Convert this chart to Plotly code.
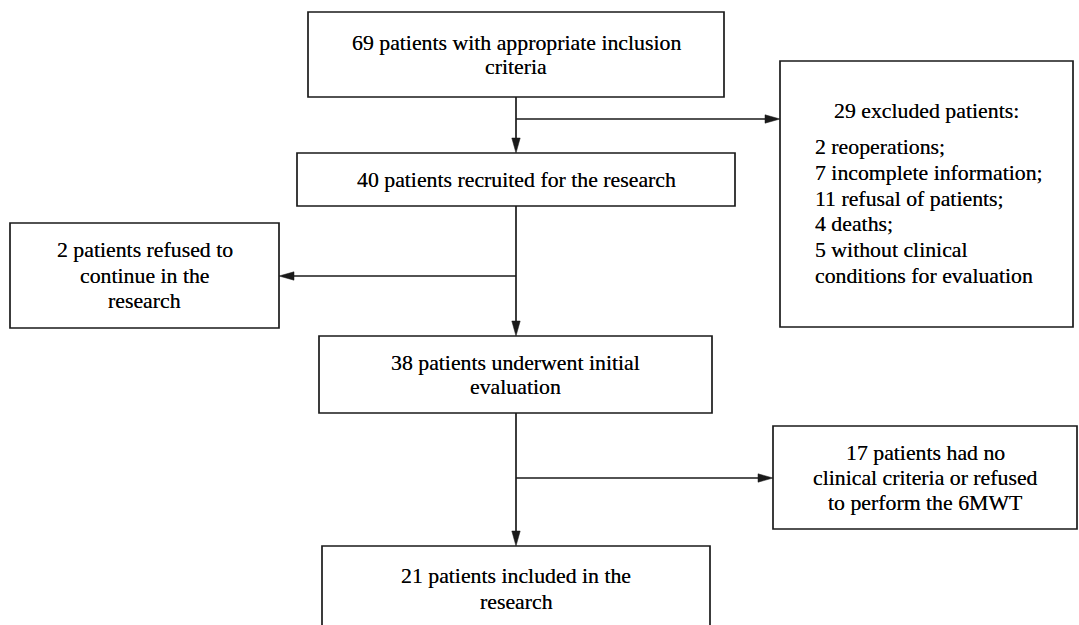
import plotly.graph_objects as go

# ---- content (data) ----
main_steps = [
    ["69 patients with appropriate inclusion", "criteria"],
    ["40 patients recruited for the research"],
    ["38 patients underwent initial", "evaluation"],
    ["21 patients included in the", "research"],
]
excluded_header = "29 excluded patients:"
excluded_items = [
    "2 reoperations;",
    "7 incomplete information;",
    "11 refusal of patients;",
    "4 deaths;",
    "5 without clinical",
    "conditions for evaluation",
]
refused_lines = ["2 patients refused to", "continue in the", "research"]
no_6mwt_lines = ["17 patients had no", "clinical criteria or refused", "to perform the 6MWT"]

# ---- layout (positions in px of a 1079x625 canvas) ----
W, H = 1079, 625
main_boxes = [(308, 724, 12, 97), (297, 735, 153, 206), (319, 712, 336, 413), (322, 710, 546, 631)]
excl_box = (780, 1073, 61, 327)
refused_box = (10, 279, 223, 328)
mwt_box = (773, 1077, 426, 529)
spine_x = 516
branch_excl_y = 119
branch_refused_y = 276
branch_mwt_y = 478
LINE_H = 25.5
FONT = dict(family="Liberation Serif", size=21.8, color="#000000",
            shadow="0px 0px 0.5px rgba(0,0,0,0.7)")
LC = "#1a1a1a"
LW = 1.7
AH_L, AH_W = 15, 4.2

fig = go.Figure()
shapes = []
annotations = []


def rect(b):
    shapes.append(dict(type="rect", xref="x", yref="y", x0=b[0], x1=b[1], y0=b[2], y1=b[3],
                       line=dict(color=LC, width=LW), fillcolor="rgba(0,0,0,0)"))


def seg(x0, y0, x1, y1):
    shapes.append(dict(type="line", xref="x", yref="y", x0=x0, y0=y0, x1=x1, y1=y1,
                       line=dict(color=LC, width=LW)))


def head(xt, yt, direction):
    if direction == "down":
        p = f"M {xt-AH_W},{yt-AH_L} L {xt+AH_W},{yt-AH_L} L {xt},{yt} Z"
    elif direction == "right":
        p = f"M {xt-AH_L},{yt-AH_W} L {xt-AH_L},{yt+AH_W} L {xt},{yt} Z"
    else:
        p = f"M {xt+AH_L},{yt-AH_W} L {xt+AH_L},{yt+AH_W} L {xt},{yt} Z"
    shapes.append(dict(type="path", xref="x", yref="y", path=p, fillcolor=LC,
                       line=dict(color=LC, width=0.5)))


def text_lines(lines, xc, yc, spacing=LINE_H, align="center", xanchor="center"):
    n = len(lines)
    for i, t in enumerate(lines):
        y = yc + (i - (n - 1) / 2) * spacing
        annotations.append(dict(x=xc, y=y, xref="x", yref="y", text=t, showarrow=False,
                                font=FONT, xanchor=xanchor, yanchor="middle", align=align))


# boxes
for b in main_boxes:
    rect(b)
rect(excl_box)
rect(refused_box)
rect(mwt_box)

# spine arrows
for upper, lower in zip(main_boxes[:-1], main_boxes[1:]):
    seg(spine_x, upper[3], spine_x, lower[2] - AH_L + 1)
    head(spine_x, lower[2], "down")

# branches
seg(spine_x, branch_excl_y, excl_box[0] - AH_L + 1, branch_excl_y)
head(excl_box[0], branch_excl_y, "right")
seg(spine_x, branch_refused_y, refused_box[1] + AH_L - 1, branch_refused_y)
head(refused_box[1], branch_refused_y, "left")
seg(spine_x, branch_mwt_y, mwt_box[0] - AH_L + 1, branch_mwt_y)
head(mwt_box[0], branch_mwt_y, "right")

# texts
for b, lines in zip(main_boxes[:3], main_steps[:3]):
    text_lines(lines, (b[0] + b[1]) / 2, (b[2] + b[3]) / 2 + 0.5, spacing=24)
b4 = main_boxes[3]
text_lines(main_steps[3], (b4[0] + b4[1]) / 2, 588.5, spacing=26)
text_lines(refused_lines, (refused_box[0] + refused_box[1]) / 2,
           (refused_box[2] + refused_box[3]) / 2, spacing=25.5)
text_lines(no_6mwt_lines, (mwt_box[0] + mwt_box[1]) / 2,
           (mwt_box[2] + mwt_box[3]) / 2, spacing=25)
text_lines([excluded_header], (excl_box[0] + excl_box[1]) / 2, 111)
text_lines(excluded_items, 813, 211.5, spacing=25.8, align="left", xanchor="left")

fig.update_layout(
    width=W, height=H,
    margin=dict(l=0, r=0, t=0, b=0),
    paper_bgcolor="white", plot_bgcolor="white",
    font=dict(family="Liberation Serif", size=21.8, color="#000000"),
    xaxis=dict(range=[0, W], visible=False, fixedrange=True),
    yaxis=dict(range=[H, 0], visible=False, fixedrange=True),
    shapes=shapes, annotations=annotations, showlegend=False,
)
fig.write_html("out.html", config={"displayModeBar": False},
               post_script="document.body.style.margin='0';document.body.style.overflow='hidden';")
